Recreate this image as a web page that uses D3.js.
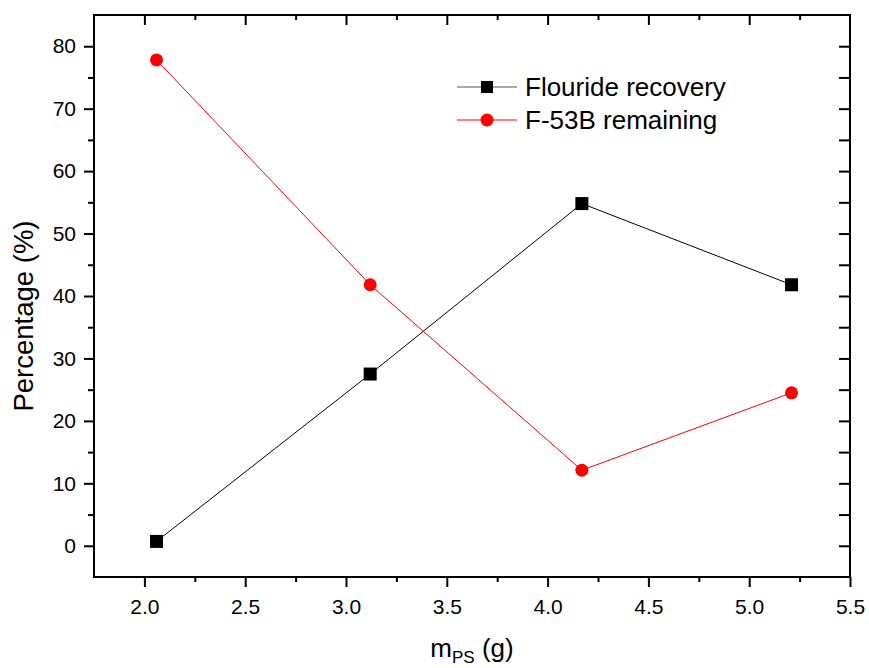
<!DOCTYPE html>
<html>
<head>
<meta charset="utf-8">
<script src="https://cdn.jsdelivr.net/npm/d3@7"></script>
<style>
  body { margin: 0; background: #fff; }
  svg { font-family: "Liberation Sans", Arial, sans-serif; }
</style>
</head>
<body>
<svg id="chart" viewBox="0 0 869 668" width="869" height="668"></svg>
<script>
// data
const massPS = [2.06, 3.12, 4.17, 5.21]
const fluorideRecovery = [0.7, 27.5, 54.8, 41.8]
const f53bRemaining = [77.8, 41.8, 12.1, 24.5]
const seriesNames = ["Flouride recovery", "F-53B remaining"]
const xTicks = [2.0, 2.5, 3.0, 3.5, 4.0, 4.5, 5.0, 5.5]
const yTicks = [0, 10, 20, 30, 40, 50, 60, 70, 80]

const svg = d3.select("#chart")
const plotLeft = 94, plotRight = 850, plotTop = 15, plotBottom = 577

const x = d3.scaleLinear().domain([1.75, 5.5]).range([plotLeft, plotRight])
const y = d3.scaleLinear().domain([-5, 85]).range([plotBottom, plotTop])

const xMinor = [2.25, 2.75, 3.25, 3.75, 4.25, 4.75, 5.25]
const yMinor = d3.range(5, 85, 10)

// frame
svg.append("rect")
    .attr("x", plotLeft).attr("y", plotTop)
    .attr("width", plotRight - plotLeft).attr("height", plotBottom - plotTop)
    .attr("fill", "none").attr("stroke", "#000").attr("stroke-width", 2)

function styleAxis(g) {
    g.select(".domain").remove()
    g.selectAll(".tick line").attr("stroke", "#000").attr("stroke-width", 2)
    g.selectAll("text").attr("fill", "#000").style("font-size", "21px")
        .style("font-family", "'Liberation Sans', Arial, sans-serif")
}

// bottom
svg.append("g").attr("transform", `translate(0,${plotBottom})`)
    .call(d3.axisBottom(x).tickValues(xTicks).tickFormat(d3.format(".1f")).tickSize(10).tickPadding(12))
    .call(styleAxis)
svg.append("g").attr("transform", `translate(0,${plotBottom})`)
    .call(d3.axisBottom(x).tickValues(xMinor).tickFormat("").tickSize(5))
    .call(styleAxis)
// top (inward)
svg.append("g").attr("transform", `translate(0,${plotTop})`)
    .call(d3.axisBottom(x).tickValues(xTicks.filter(t => t < 5.5)).tickFormat("").tickSize(10))
    .call(styleAxis)
svg.append("g").attr("transform", `translate(0,${plotTop})`)
    .call(d3.axisBottom(x).tickValues(xMinor).tickFormat("").tickSize(5))
    .call(styleAxis)
// left
svg.append("g").attr("transform", `translate(${plotLeft},0)`)
    .call(d3.axisLeft(y).tickValues(yTicks).tickFormat(d3.format("d")).tickSize(10).tickPadding(8))
    .call(styleAxis)
svg.append("g").attr("transform", `translate(${plotLeft},0)`)
    .call(d3.axisLeft(y).tickValues(yMinor).tickFormat("").tickSize(6))
    .call(styleAxis)
// right (inward)
svg.append("g").attr("transform", `translate(${plotRight},0)`)
    .call(d3.axisLeft(y).tickValues(yTicks.concat(yMinor)).tickFormat("").tickSize(11))
    .call(styleAxis)

// axis titles
svg.append("text")
    .attr("transform", "translate(33,316) rotate(-90)")
    .attr("text-anchor", "middle")
    .style("font-size", "27.5px")
    .text("Percentage (%)")

const xt = svg.append("text")
    .attr("x", (plotLeft + plotRight) / 2).attr("y", 657)
    .attr("text-anchor", "middle")
    .style("font-size", "26px")
xt.append("tspan").text("m")
xt.append("tspan").attr("dy", 6).style("font-size", "17px").text("PS")
xt.append("tspan").attr("dy", -6).text(" (g)")

// series
const line = d3.line().x(d => x(d[0])).y(d => y(d[1]))
const blackData = d3.zip(massPS, fluorideRecovery)
const redData = d3.zip(massPS, f53bRemaining)

svg.append("path").datum(blackData)
    .attr("d", line).attr("fill", "none").attr("stroke", "#000").attr("stroke-width", 1)
svg.append("path").datum(redData)
    .attr("d", line).attr("fill", "none").attr("stroke", "#ff0000").attr("stroke-width", 1)

svg.selectAll(".sq").data(blackData).enter().append("rect")
    .attr("x", d => x(d[0]) - 6.5).attr("y", d => y(d[1]) - 6.5)
    .attr("width", 13).attr("height", 13).attr("fill", "#000")
svg.selectAll(".dot").data(redData).enter().append("circle")
    .attr("cx", d => x(d[0])).attr("cy", d => y(d[1]))
    .attr("r", 6.5).attr("fill", "#ff0000")

// legend
const legend = svg.append("g").attr("transform", "translate(457,87)")
seriesNames.forEach((name, i) => {
    const g = legend.append("g").attr("transform", `translate(0,${i * 33})`)
    const col = i === 0 ? "#000" : "#ff0000"
    g.append("line").attr("x1", 0).attr("x2", 60).attr("stroke", i === 0 ? "#555" : col).attr("stroke-width", 1)
    if (i === 0) {
        g.append("rect").attr("x", 24).attr("y", -6).attr("width", 12).attr("height", 12).attr("fill", col)
    } else {
        g.append("circle").attr("cx", 30).attr("r", 6.5).attr("fill", col)
    }
    g.append("text").attr("x", 68).attr("dy", "0.35em").style("font-size", "26px").text(name)
})
</script>
</body>
</html>
